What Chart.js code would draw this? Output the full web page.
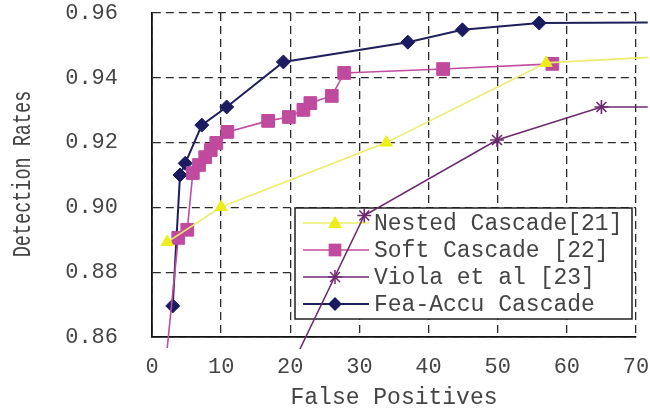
<!DOCTYPE html>
<html>
<head>
<meta charset="utf-8">
<script src="https://cdn.jsdelivr.net/npm/chart.js@4/dist/chart.umd.min.js"></script>
<style>
  html, body { margin: 0; padding: 0; background: #fff; }
  #wrap { width: 650px; height: 412px; }
</style>
</head>
<body>
<div id="wrap"><canvas id="roc" width="650" height="412"></canvas></div>
<script>
/* ---- data ---- */
const nestedX = [2.2, 10, 33.9, 57, 71.7];
const nestedY = [0.8893, 0.9001, 0.9200, 0.9446, 0.9463];

const softX = [2.2, 3.8, 5.1, 5.9, 6.8, 7.7, 8.5, 9.3, 10.9, 16.8, 19.8, 21.9, 22.9, 26.0, 27.8, 42.1, 57.9];
const softY = [0.8566, 0.8906, 0.8931, 0.9106, 0.9131, 0.9155, 0.9177, 0.9199, 0.9233, 0.9267, 0.9279, 0.9301, 0.9322, 0.9344, 0.9415, 0.9427, 0.9443];

const violaX = [21.4, 30.7, 49.9, 65, 71.7];
const violaY = [0.8563, 0.8975, 0.9208, 0.9310, 0.9310];

const feaX = [3, 4.05, 4.8, 7.2, 10.8, 19, 37, 44.9, 56, 71.7];
const feaY = [0.8696, 0.9100, 0.9136, 0.9254, 0.9310, 0.9449, 0.9510, 0.9548, 0.9569, 0.9571];

const xTicks = [0, 10, 20, 30, 40, 50, 60, 70];
const yTicks = [0.86, 0.88, 0.90, 0.92, 0.94, 0.96];

const seriesNames = ["Nested Cascade[21]", "Soft Cascade [22]", "Viola et al [23]", "Fea-Accu Cascade"];

const MONO = '"Liberation Mono", "DejaVu Sans Mono", monospace';
const TXT = '#444';

function pts(xs, ys) { return xs.map((x, i) => ({ x, y: ys[i] })); }
// first/last points that only carry the line run off the plot: no marker there
function radii(n, r, skipFirst, skipLast) {
    return Array.from({ length: n }, (_, i) => ((skipFirst && i === 0) || (skipLast && i === n - 1)) ? 0 : r);
}

const STYLES = [
    { line: '#ecec6a', fill: '#eded1c', shape: 'triangle', r: 7, w: 1.6 },
    { line: '#c24da0', fill: '#c04a9e', shape: 'rect', r: 9, w: 1.6 },
    { line: '#6e2a70', fill: '#6e2a70', shape: 'star', r: 7, w: 1.6 },
    { line: '#1f1f5c', fill: '#1b1b62', shape: 'rectRot', r: 7, w: 2 }
];

/* ---- legend box drawn under the lines (lines cross it in the original) ---- */
function drawMarker(ctx, st, x, y) {
    ctx.save();
    ctx.fillStyle = st.fill;
    ctx.strokeStyle = st.fill;
    ctx.lineWidth = 1.5;
    const r = st.r;
    ctx.beginPath();
    if (st.shape === 'triangle') {
        ctx.moveTo(x, y - r);
        ctx.lineTo(x + r, y + r * 0.7);
        ctx.lineTo(x - r, y + r * 0.7);
        ctx.closePath(); ctx.fill();
    } else if (st.shape === 'rect') {
        const s = r * Math.SQRT1_2;
        ctx.rect(x - s, y - s, 2 * s, 2 * s); ctx.fill();
    } else if (st.shape === 'rectRot') {
        ctx.moveTo(x, y - r); ctx.lineTo(x + r, y); ctx.lineTo(x, y + r); ctx.lineTo(x - r, y);
        ctx.closePath(); ctx.fill();
    } else {
        for (let k = 0; k < 4; k++) {
            const a = k * Math.PI / 4;
            ctx.moveTo(x - r * Math.cos(a), y - r * Math.sin(a));
            ctx.lineTo(x + r * Math.cos(a), y + r * Math.sin(a));
        }
        ctx.stroke();
    }
    ctx.restore();
}

const boxLegend = {
    id: 'boxLegend',
    beforeDatasetsDraw(chart) {
        const ctx = chart.ctx;
        const bx = 295, by = 208, bw = 337, bh = 111;
        ctx.save();
        ctx.fillStyle = '#fff';
        ctx.fillRect(bx, by, bw, bh);
        ctx.strokeStyle = '#222';
        ctx.lineWidth = 1.5;
        ctx.strokeRect(bx, by, bw, bh);
        const rows = [223, 250, 277, 304];
        ctx.font = '23px ' + MONO;
        ctx.textBaseline = 'middle';
        ctx.textAlign = 'left';
        rows.forEach((ry, i) => {
            const st = STYLES[i];
            ctx.strokeStyle = st.line;
            ctx.lineWidth = st.w;
            ctx.beginPath(); ctx.moveTo(303, ry); ctx.lineTo(369, ry); ctx.stroke();
            drawMarker(ctx, st, 335, ry);
            ctx.fillStyle = TXT;
            ctx.fillText(seriesNames[i], 374, ry + 1);
        });
        ctx.restore();
    }
};

/* ---- condensed vertical axis title ---- */
const yTitle = {
    id: 'yTitle',
    afterDraw(chart) {
        const ctx = chart.ctx;
        ctx.save();
        ctx.translate(23, 174);
        ctx.rotate(-Math.PI / 2);
        ctx.scale(0.74, 1);
        ctx.font = '25px ' + MONO;
        ctx.fillStyle = TXT;
        ctx.textAlign = 'center';
        ctx.textBaseline = 'middle';
        ctx.fillText('Detection Rates', 0, 0);
        ctx.restore();
    }
};

function makeSet(i, xs, ys, skipFirst, skipLast) {
    const st = STYLES[i];
    return {
        label: seriesNames[i],
        data: pts(xs, ys),
        showLine: true,
        borderColor: st.line,
        borderWidth: st.w,
        backgroundColor: st.fill,
        pointBackgroundColor: st.fill,
        pointBorderColor: st.fill,
        pointBorderWidth: st.shape === 'star' ? 1.6 : 1,
        pointStyle: st.shape,
        pointRadius: radii(xs.length, st.r, skipFirst, skipLast),
        pointHoverRadius: 0,
        tension: 0,
        clip: false
    };
}

new Chart(document.getElementById('roc'), {
    type: 'scatter',
    data: {
        datasets: [
            makeSet(2, violaX, violaY, true, true),
            makeSet(0, nestedX, nestedY, false, true),
            makeSet(1, softX, softY, true, false),
            makeSet(3, feaX, feaY, false, true)
        ]
    },
    options: {
        responsive: false,
        animation: false,
        events: [],
        layout: { padding: { top: 13, right: 14, bottom: 0, left: 0 } },
        plugins: { legend: { display: false }, tooltip: { enabled: false } },
        scales: {
            x: {
                type: 'linear',
                min: 0, max: 70,
                afterBuildTicks: s => { s.ticks = xTicks.map(v => ({ value: v })); },
                afterFit: s => { s.height = 75; s.paddingLeft = 0; s.paddingRight = 0; },
                grid: { color: '#2a2a2a', lineWidth: 1.3, drawTicks: false },
                border: { display: true, color: '#111', width: 1.8, dash: [8, 5] },
                ticks: { color: TXT, font: { family: MONO, size: 22 }, padding: 17, maxRotation: 0 },
                title: { display: true, text: 'False Positives', color: TXT,
                         font: { family: MONO, size: 23 }, padding: { top: 0, bottom: 0 } }
            },
            y: {
                type: 'linear',
                min: 0.86, max: 0.96,
                afterBuildTicks: s => { s.ticks = yTicks.map(v => ({ value: v })); },
                afterFit: s => { s.width = 152; s.paddingTop = 0; s.paddingBottom = 0; },
                grid: { color: '#2a2a2a', lineWidth: 1.3, drawTicks: false },
                border: { display: true, color: '#111', width: 1.8, dash: [8, 5] },
                ticks: { color: TXT, font: { family: MONO, size: 22 }, padding: 34,
                         callback: v => v.toFixed(2) }
            }
        }
    },
    plugins: [boxLegend, yTitle]
});
</script>
</body>
</html>
